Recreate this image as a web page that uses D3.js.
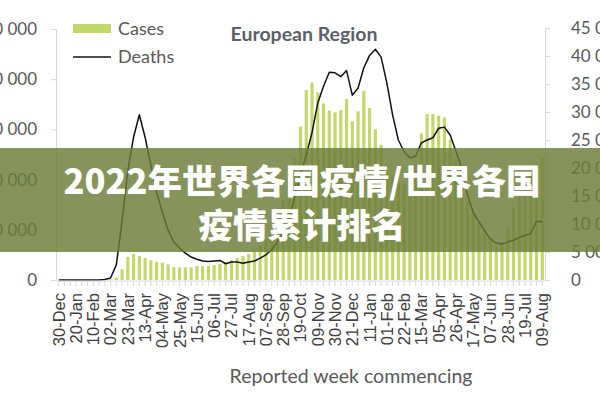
<!DOCTYPE html>
<html>
<head>
<meta charset="utf-8">
<script src="https://cdn.jsdelivr.net/npm/d3@7"></script>
<style>
  body { margin: 0; background: #fff; }
  svg { display: block; }
</style>
</head>
<body>
<div id="chart"></div>
<script>
// weekly values, European Region, week 0 = 30-Dec-2019
const cases = [
  0, 0, 0, 0, 0, 0, 0, 300, 2000, 6000,
  25000, 106000, 231000, 258000, 238000, 221000, 198000, 182000, 172000, 156000,
  126000, 126000, 126000, 126000, 139000, 139000, 139000, 149000, 159000, 182000,
  198000, 218000, 238000, 258000, 290000, 340000, 410000, 500000, 640000, 800000,
  1000000, 1220000, 1528000, 1892000, 1967000, 1868000, 1759000, 1687000, 1670000, 1693000,
  1803000, 1580000, 1680000, 1885000, 1713000, 1501000, 1346000, 1150000, 1050000, 980000,
  950000, 1000000, 1150000, 1460000, 1654000, 1654000, 1637000, 1620000, 1400000, 1200000,
  950000, 790000, 680000, 570000, 470000, 420000, 340000, 380000, 520000, 720000,
  890000, 990000, 1060000, 1150000, 1220000
];
const deaths = [
  0, 0, 0, 0, 0, 0, 0, 0, 100, 350,
  2700, 10500, 19500, 25500, 29500, 25500, 20500, 15700, 12100, 8900,
  6800, 5700, 4800, 4100, 3700, 3400, 3300, 3400, 3500, 2900,
  3200, 3200, 3000, 3200, 3400, 3900, 4500, 5400, 6800, 8600,
  10700, 15000, 18800, 22300, 26300, 31600, 34600, 37100, 37000, 36300,
  37400, 33000, 34300, 37900, 40100, 41200, 39800, 35200, 29500, 25000,
  22900, 21800, 22100, 24500, 25000, 25400, 27100, 27300, 25900, 23000,
  20000, 15200, 12100, 10400, 8750, 7300, 6600, 6400, 6800, 7100,
  7600, 8000, 8300, 10500, 10400
];
const tickLabels = [
  "30-Dec", "20-Jan", "10-Feb", "02-Mar", "23-Mar", "13-Apr", "04-May", "25-May",
  "15-Jun", "06-Jul", "27-Jul", "17-Aug", "07-Sep", "28-Sep", "19-Oct", "09-Nov",
  "30-Nov", "21-Dec", "11-Jan", "01-Feb", "22-Feb", "15-Mar", "05-Apr", "26-Apr",
  "17-May", "07-Jun", "28-Jun", "19-Jul", "09-Aug"
];
const leftTicks = [0, 500000, 1000000, 1500000, 2000000, 2500000];
const rightTicks = [0, 5000, 10000, 15000, 20000, 25000, 30000, 35000, 40000, 45000];

const W = 600, H = 400;
const axisGrey = "#d9d9d9";
const textGrey = "#595959";
const barColor = "#c4d76a";

const fmt = d3.formatLocale({decimal: ".", thousands: " ", grouping: [3], currency: ["", ""]}).format(",");

const svg = d3.select("#chart").append("svg")
  .attr("width", W)
  .attr("height", H);

const weeks = d3.range(cases.length);
const x = d3.scaleBand().domain(weeks).range([56, 545]).paddingInner(0.45).paddingOuter(0.2);
const yL = d3.scaleLinear().domain([0, 2500000]).range([280, 29]);
const yR = d3.scaleLinear().domain([0, 45000]).range([280, 28]);

// bars
svg.append("g")
  .selectAll("rect")
  .data(cases)
  .join("rect")
    .attr("x", (d, i) => x(i))
    .attr("y", d => yL(d))
    .attr("width", x.bandwidth())
    .attr("height", d => yL(0) - yL(d))
    .attr("fill", barColor);

// deaths line
const line = d3.line()
  .x((d, i) => x(i) + x.bandwidth() / 2)
  .y(d => yR(d));
svg.append("path")
  .datum(deaths)
  .attr("fill", "none")
  .attr("stroke", "#111")
  .attr("stroke-width", 1.5)
  .attr("stroke-linejoin", "round")
  .attr("d", line);

// left axis
const gL = svg.append("g")
  .attr("transform", "translate(56,0)")
  .call(d3.axisLeft(yL).tickValues(leftTicks).tickSize(5).tickPadding(14).tickFormat(fmt));
// right axis
const gR = svg.append("g")
  .attr("transform", "translate(545,0)")
  .call(d3.axisRight(yR).tickValues(rightTicks).tickSize(5).tickPadding(21).tickFormat(fmt));
// bottom axis, one tick per week
const gB = svg.append("g")
  .attr("transform", "translate(0,281)")
  .call(d3.axisBottom(x).tickSize(5).tickFormat(""));

[gL, gR, gB].forEach(g => {
  g.select(".domain").attr("stroke", axisGrey);
  g.selectAll(".tick line").attr("stroke", axisGrey);
  g.selectAll("text")
    .attr("fill", textGrey)
    .style("font-family", "Lato, 'Open Sans', sans-serif")
    .style("font-size", "17px");
});
gB.select(".domain").attr("d", "M56,0H545");

// week labels, every third week
svg.append("g")
  .selectAll("text")
  .data(tickLabels)
  .join("text")
    .attr("transform", (d, i) => `translate(${x(i * 3) + x.bandwidth() / 2},293) rotate(-90)`)
    .attr("dy", "0.36em")
    .attr("text-anchor", "end")
    .attr("fill", "#404040")
    .style("font-family", "'Liberation Sans', Arial, sans-serif")
    .style("font-size", "16.5px")
    .text(d => d);

// title + axis title
svg.append("text")
  .attr("x", 304).attr("y", 41)
  .attr("text-anchor", "middle")
  .attr("fill", "#5b6069")
  .style("font-family", "Lato, sans-serif")
  .style("font-weight", "bold")
  .style("font-size", "19.5px")
  .text("European Region");

svg.append("text")
  .attr("x", 351).attr("y", 383)
  .attr("text-anchor", "middle")
  .attr("fill", textGrey)
  .style("font-family", "Lato, sans-serif")
  .style("font-size", "19.5px")
  .text("Reported week commencing");

// legend
const legend = svg.append("g").style("font-family", "Lato, sans-serif").style("font-size", "18px");
legend.append("rect").attr("x", 73).attr("y", 24).attr("width", 38).attr("height", 9).attr("fill", barColor);
legend.append("line").attr("x1", 73).attr("x2", 111).attr("y1", 57).attr("y2", 57)
  .attr("stroke", "#111").attr("stroke-width", 1.5);
legend.append("text").attr("x", 118).attr("y", 35).attr("fill", textGrey).text("Cases");
legend.append("text").attr("x", 118).attr("y", 63).attr("fill", textGrey).text("Deaths");

// overlay banner with headline
svg.append("rect")
  .attr("x", 0).attr("y", 148)
  .attr("width", W).attr("height", 104)
  .attr("fill", "rgb(107,125,56)")
  .attr("fill-opacity", 0.82);

const headline = ["2022年世界各国疫情/世界各国", "疫情累计排名"];
svg.append("g")
  .selectAll("text")
  .data(headline)
  .join("text")
    .attr("x", 302)
    .attr("y", (d, i) => 194 + i * 44)
    .attr("text-anchor", "middle")
    .attr("fill", "#fff")
    .style("font-family", "'Noto Sans CJK SC', sans-serif")
    .style("font-weight", "900")
    .style("font-size", "34.5px")
    .text(d => d);
</script>
</body>
</html>
